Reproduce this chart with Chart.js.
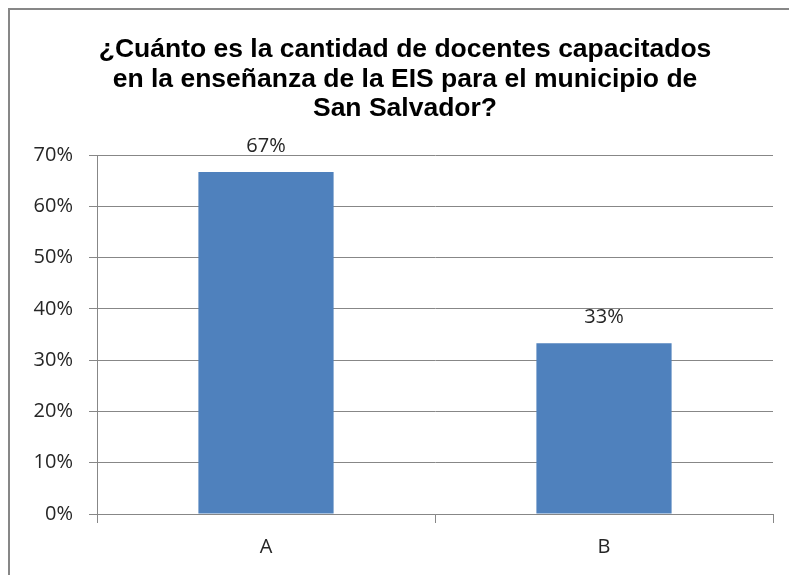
<!DOCTYPE html>
<html>
<head>
<meta charset="utf-8">
<script src="https://cdn.jsdelivr.net/npm/chart.js@4/dist/chart.umd.min.js"></script>
<style>
  body { margin: 0; overflow: hidden; background: #fff; width: 789px; height: 575px; }
  #frame {
    position: absolute; left: 8px; top: 8px;
    border-top: 2px solid #878787; border-left: 2px solid #878787;
    width: 800px; height: 580px;
  }
  #wrap { position: absolute; left: 0; top: 0; width: 790px; height: 567px; }
</style>
</head>
<body>
<div id="frame"><div id="wrap"><canvas id="barChart"></canvas></div></div>
<script>
// data
const categories = ["A", "B"];
const values = [0.667, 0.333];
const valueLabels = ["67%", "33%"];
const titleLines = [
  "¿Cuánto es la cantidad de docentes capacitados",
  "en la enseñanza de la EIS para el municipio de",
  "San Salvador?",
];

const gray = "#878787";
const tickFont = { family: "'Open Sans', sans-serif", size: 20 };

// title centred on the whole frame, not on the padded box
const frameTitle = {
  id: "frameTitle",
  afterDraw(chart) {
    const ctx = chart.ctx;
    ctx.save();
    ctx.font = "bold 26.5px 'Liberation Sans', Arial, sans-serif";
    ctx.fillStyle = "#000";
    ctx.textAlign = "center";
    ctx.textBaseline = "middle";
    titleLines.forEach((line, i) => {
      ctx.fillText(line, chart.width / 2, 40 + i * 29.5);
    });
    ctx.restore();
  },
};

// labels over the bars
const barLabels = {
  id: "barLabels",
  afterDatasetsDraw(chart) {
    const ctx = chart.ctx;
    const meta = chart.getDatasetMeta(0);
    ctx.save();
    ctx.font = "20px 'Open Sans', sans-serif";
    ctx.fillStyle = "#262626";
    ctx.textAlign = "center";
    ctx.textBaseline = "alphabetic";
    meta.data.forEach((bar, i) => {
      ctx.fillText(valueLabels[i], bar.x, bar.y - 20);
    });
    ctx.restore();
  },
};

new Chart(document.getElementById("barChart"), {
  type: "bar",
  data: {
    labels: categories,
    datasets: [
      {
        data: values,
        backgroundColor: "#4F81BD",
        barPercentage: 0.4,
        categoryPercentage: 1,
      },
    ],
  },
  options: {
    responsive: true,
    maintainAspectRatio: false,
    animation: false,
    layout: { padding: { left: 0, right: 27, top: 145, bottom: 0 } },
    scales: {
      x: {
        afterFit: (s) => { s.height = 63; },
        grid: { offset: true, drawOnChartArea: false, color: gray, tickLength: 9 },
        border: { color: gray },
        ticks: { color: "#262626", font: tickFont, padding: 12 },
      },
      y: {
        min: 0,
        max: 0.7,
        afterFit: (s) => { s.width = 87; },
        grid: { color: gray, tickLength: 8 },
        border: { color: gray },
        ticks: {
          stepSize: 0.1,
          color: "#262626",
          font: tickFont,
          padding: 16,
          callback: (v) => Math.round(v * 100) + "%",
        },
      },
    },
    plugins: {
      legend: { display: false },
      tooltip: { enabled: false },
      title: { display: false },
    },
  },
  plugins: [barLabels, frameTitle],
});
</script>
</body>
</html>
